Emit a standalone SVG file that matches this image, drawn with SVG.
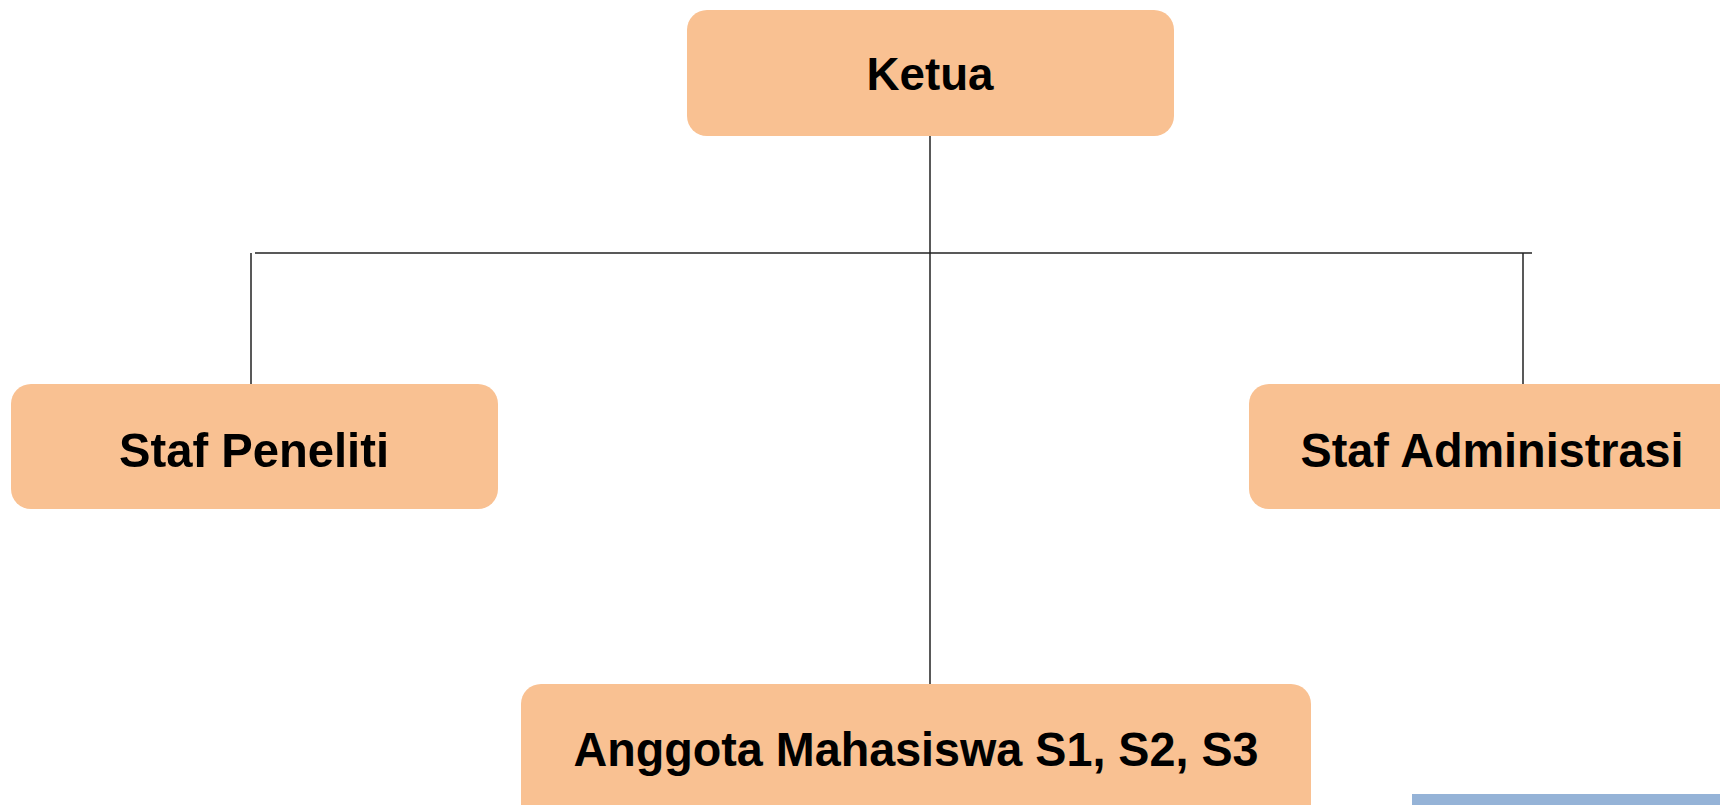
<svg xmlns="http://www.w3.org/2000/svg" width="1720" height="805" viewBox="0 0 1720 805">
<style>
.box{fill:#F9C192;}
.lbl{font-family:"Liberation Sans",Arial,sans-serif;font-weight:bold;fill:#000;text-anchor:middle;}
.ln{stroke:#222;stroke-width:1.5;fill:none;}
</style>
<rect width="1720" height="805" fill="#fff"/>
<g id="connectors">
<line class="ln" x1="930" y1="136" x2="930" y2="684"/>
<line class="ln" x1="255" y1="253" x2="1532" y2="253"/>
<line class="ln" x1="251" y1="253" x2="251" y2="384"/>
<line class="ln" x1="1523" y1="253" x2="1523" y2="384"/>
</g>
<g id="ketua">
<rect class="box" x="687" y="10" width="487" height="126" rx="20"/>
<text class="lbl" x="930" y="90" font-size="46" textLength="127" lengthAdjust="spacingAndGlyphs">Ketua</text>
</g>
<g id="staf-peneliti">
<rect class="box" x="11" y="384" width="487" height="125" rx="20"/>
<text class="lbl" x="254" y="467" font-size="49" textLength="270" lengthAdjust="spacingAndGlyphs">Staf Peneliti</text>
</g>
<g id="staf-administrasi">
<rect class="box" x="1249" y="384" width="500" height="125" rx="20"/>
<text class="lbl" x="1492" y="467" font-size="49" textLength="383" lengthAdjust="spacingAndGlyphs">Staf Administrasi</text>
</g>
<g id="anggota">
<rect class="box" x="521" y="684" width="790" height="150" rx="20"/>
<text class="lbl" x="916" y="766" font-size="49" textLength="685" lengthAdjust="spacingAndGlyphs">Anggota Mahasiswa S1, S2, S3</text>
</g>
<rect x="1412" y="794" width="308" height="11" fill="#95B3D7"/>
</svg>
